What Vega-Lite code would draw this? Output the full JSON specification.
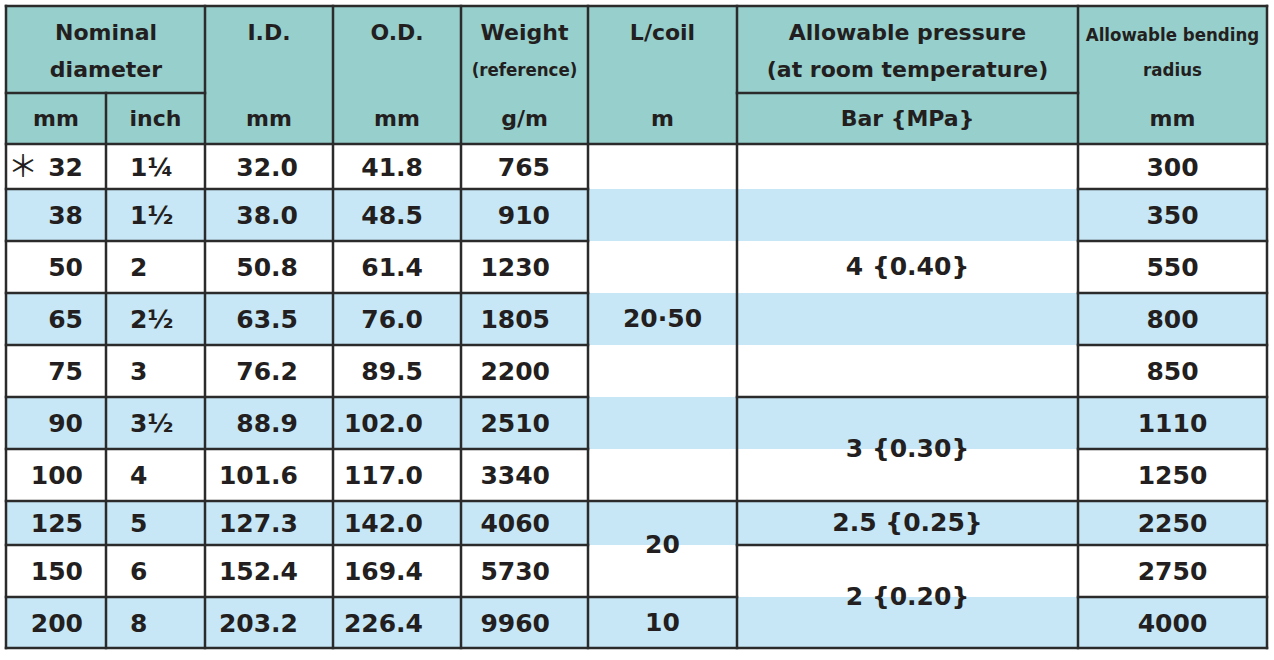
{
  "$schema": "https://vega.github.io/schema/vega-lite/v6.json",
  "width": 1274,
  "height": 660,
  "autosize": {"type": "fit", "contains": "padding"},
  "padding": 0,
  "background": "white",
  "config": {
    "view": {"stroke": null},
    "axis": {"disable": true},
    "text": {"font": "DejaVu Sans", "fontWeight": "bold", "fontSize": 25, "color": "#231f20", "baseline": "middle"}
  },
  "datasets": {
    "fills": [
      {"kind": "head", "c0": 0, "c1": 8, "r0": 0, "r1": 2},
      {"kind": "stripe", "c0": 0, "c1": 8, "r0": 3, "r1": 4},
      {"kind": "stripe", "c0": 0, "c1": 8, "r0": 5, "r1": 6},
      {"kind": "stripe", "c0": 0, "c1": 8, "r0": 7, "r1": 8},
      {"kind": "stripe", "c0": 0, "c1": 8, "r0": 9, "r1": 10},
      {"kind": "stripe", "c0": 0, "c1": 8, "r0": 11, "r1": 12}
    ],
    "lines": [
      {"x0": 0, "x1": 0, "y0": 0, "y1": 12},
      {"x0": 1, "x1": 1, "y0": 1, "y1": 12},
      {"x0": 2, "x1": 2, "y0": 0, "y1": 12},
      {"x0": 3, "x1": 3, "y0": 0, "y1": 12},
      {"x0": 4, "x1": 4, "y0": 0, "y1": 12},
      {"x0": 5, "x1": 5, "y0": 0, "y1": 12},
      {"x0": 6, "x1": 6, "y0": 0, "y1": 12},
      {"x0": 7, "x1": 7, "y0": 0, "y1": 12},
      {"x0": 8, "x1": 8, "y0": 0, "y1": 12},
      {"x0": 0, "x1": 8, "y0": 0, "y1": 0},
      {"x0": 0, "x1": 2, "y0": 1, "y1": 1},
      {"x0": 6, "x1": 7, "y0": 1, "y1": 1},
      {"x0": 0, "x1": 8, "y0": 2, "y1": 2},
      {"x0": 0, "x1": 5, "y0": 3, "y1": 3},
      {"x0": 7, "x1": 8, "y0": 3, "y1": 3},
      {"x0": 0, "x1": 5, "y0": 4, "y1": 4},
      {"x0": 7, "x1": 8, "y0": 4, "y1": 4},
      {"x0": 0, "x1": 5, "y0": 5, "y1": 5},
      {"x0": 7, "x1": 8, "y0": 5, "y1": 5},
      {"x0": 0, "x1": 5, "y0": 6, "y1": 6},
      {"x0": 7, "x1": 8, "y0": 6, "y1": 6},
      {"x0": 0, "x1": 5, "y0": 7, "y1": 7},
      {"x0": 6, "x1": 8, "y0": 7, "y1": 7},
      {"x0": 0, "x1": 5, "y0": 8, "y1": 8},
      {"x0": 7, "x1": 8, "y0": 8, "y1": 8},
      {"x0": 0, "x1": 8, "y0": 9, "y1": 9},
      {"x0": 0, "x1": 5, "y0": 10, "y1": 10},
      {"x0": 6, "x1": 8, "y0": 10, "y1": 10},
      {"x0": 0, "x1": 6, "y0": 11, "y1": 11},
      {"x0": 7, "x1": 8, "y0": 11, "y1": 11},
      {"x0": 0, "x1": 8, "y0": 12, "y1": 12}
    ],
    "header": [
      {"text": "Nominal", "c0": 0, "c1": 2, "line": 1},
      {"text": "diameter", "c0": 0, "c1": 2, "line": 2},
      {"text": "I.D.", "c0": 2, "c1": 3, "line": 1},
      {"text": "O.D.", "c0": 3, "c1": 4, "line": 1},
      {"text": "Weight", "c0": 4, "c1": 5, "line": 1},
      {"text": "(reference)", "c0": 4, "c1": 5, "line": 2},
      {"text": "L/coil", "c0": 5, "c1": 6, "line": 1},
      {"text": "Allowable pressure", "c0": 6, "c1": 7, "line": 1},
      {"text": "(at room temperature)", "c0": 6, "c1": 7, "line": 2},
      {"text": "Allowable bending", "c0": 7, "c1": 8, "line": 1},
      {"text": "radius", "c0": 7, "c1": 8, "line": 2},
      {"text": "mm", "c0": 0, "c1": 1, "line": 3},
      {"text": "inch", "c0": 1, "c1": 2, "line": 3},
      {"text": "mm", "c0": 2, "c1": 3, "line": 3},
      {"text": "mm", "c0": 3, "c1": 4, "line": 3},
      {"text": "g/m", "c0": 4, "c1": 5, "line": 3},
      {"text": "m", "c0": 5, "c1": 6, "line": 3},
      {"text": "Bar {MPa}", "c0": 6, "c1": 7, "line": 3},
      {"text": "mm", "c0": 7, "c1": 8, "line": 3}
    ],
    "rows": [
      {"row": 1, "flag": "＊", "mm": 32, "inch": "1¼", "id": 32.0, "od": 41.8, "weight": 765, "radius": 300},
      {"row": 2, "mm": 38, "inch": "1½", "id": 38.0, "od": 48.5, "weight": 910, "radius": 350},
      {"row": 3, "mm": 50, "inch": "2", "id": 50.8, "od": 61.4, "weight": 1230, "radius": 550},
      {"row": 4, "mm": 65, "inch": "2½", "id": 63.5, "od": 76.0, "weight": 1805, "radius": 800},
      {"row": 5, "mm": 75, "inch": "3", "id": 76.2, "od": 89.5, "weight": 2200, "radius": 850},
      {"row": 6, "mm": 90, "inch": "3½", "id": 88.9, "od": 102.0, "weight": 2510, "radius": 1110},
      {"row": 7, "mm": 100, "inch": "4", "id": 101.6, "od": 117.0, "weight": 3340, "radius": 1250},
      {"row": 8, "mm": 125, "inch": "5", "id": 127.3, "od": 142.0, "weight": 4060, "radius": 2250},
      {"row": 9, "mm": 150, "inch": "6", "id": 152.4, "od": 169.4, "weight": 5730, "radius": 2750},
      {"row": 10, "mm": 200, "inch": "8", "id": 203.2, "od": 226.4, "weight": 9960, "radius": 4000}
    ],
    "spans": [
      {"text": "20·50", "c0": 5, "c1": 6, "r0": 2, "r1": 9},
      {"text": "20", "c0": 5, "c1": 6, "r0": 9, "r1": 11},
      {"text": "10", "c0": 5, "c1": 6, "r0": 11, "r1": 12},
      {"text": "4 {0.40}", "c0": 6, "c1": 7, "r0": 2, "r1": 7},
      {"text": "3 {0.30}", "c0": 6, "c1": 7, "r0": 7, "r1": 9},
      {"text": "2.5 {0.25}", "c0": 6, "c1": 7, "r0": 9, "r1": 10},
      {"text": "2 {0.20}", "c0": 6, "c1": 7, "r0": 10, "r1": 12}
    ]
  },
  "layer": [
    {
      "data": {"name": "fills"},
      "mark": "rect",
      "encoding": {
        "x": {
          "field": "c0", "type": "quantitative",
          "scale": {"domain": [0, 1, 2, 3, 4, 5, 6, 7, 8], "range": [6, 106, 205, 333, 461, 588, 737, 1078, 1267], "nice": false, "zero": false}
        },
        "x2": {"field": "c1"},
        "y": {
          "field": "r0", "type": "quantitative",
          "scale": {"domain": [0, 1, 2, 3, 4, 5, 6, 7, 8, 9, 10, 11, 12], "range": [6, 93, 144, 189, 241, 293, 345, 397, 449, 501, 545, 597, 648], "nice": false, "zero": false}
        },
        "y2": {"field": "r1"},
        "color": {
          "field": "kind", "type": "nominal",
          "scale": {"domain": ["head", "stripe"], "range": ["#96cfcc", "#c7e7f6"]},
          "legend": null
        }
      }
    },
    {
      "data": {"name": "header"},
      "transform": [
        {"filter": "!(datum.c0 == 7 && datum.line < 3) && !(datum.c0 == 4 && datum.line == 2)"},
        {"calculate": "(datum.c0 + datum.c1) / 2", "as": "cx"},
        {"calculate": "datum.line == 1 ? 0.31 : datum.line == 2 ? 0.736 : 1.5", "as": "cy"}
      ],
      "mark": {"type": "text", "fontSize": 22},
      "encoding": {
        "x": {"field": "cx", "type": "quantitative"},
        "y": {"field": "cy", "type": "quantitative"},
        "text": {"field": "text"}
      }
    },
    {
      "data": {"name": "header"},
      "transform": [
        {"filter": "(datum.c0 == 7 && datum.line < 3) || (datum.c0 == 4 && datum.line == 2)"},
        {"calculate": "(datum.c0 + datum.c1) / 2", "as": "cx"},
        {"calculate": "datum.line == 1 ? 0.33 : 0.736", "as": "cy"}
      ],
      "mark": {"type": "text", "font": "DejaVu Sans Condensed", "fontSize": 18.5},
      "encoding": {
        "x": {"field": "cx", "type": "quantitative"},
        "y": {"field": "cy", "type": "quantitative"},
        "text": {"field": "text"}
      }
    },
    {
      "data": {"name": "rows"},
      "transform": [{"filter": "datum.flag"}, {"calculate": "datum.row + 1.5", "as": "ym"}],
      "mark": {"type": "text", "font": "Noto Sans CJK JP", "fontWeight": "normal", "fontSize": 30, "dx": 17, "dy": 1},
      "encoding": {
        "x": {"datum": 0, "type": "quantitative"},
        "y": {"field": "ym", "type": "quantitative"},
        "text": {"field": "flag"}
      }
    },
    {
      "data": {"name": "rows"},
      "transform": [{"calculate": "datum.row + 1.5", "as": "ym"}],
      "mark": {"type": "text", "align": "right", "dx": -23, "dy": 1},
      "encoding": {
        "x": {"datum": 1, "type": "quantitative"},
        "y": {"field": "ym", "type": "quantitative"},
        "text": {"field": "mm", "type": "quantitative", "format": "d"}
      }
    },
    {
      "data": {"name": "rows"},
      "transform": [{"calculate": "datum.row + 1.5", "as": "ym"}],
      "mark": {"type": "text", "align": "left", "dx": 24, "dy": 1},
      "encoding": {
        "x": {"datum": 1, "type": "quantitative"},
        "y": {"field": "ym", "type": "quantitative"},
        "text": {"field": "inch"}
      }
    },
    {
      "data": {"name": "rows"},
      "transform": [{"calculate": "datum.row + 1.5", "as": "ym"}],
      "mark": {"type": "text", "align": "right", "dx": -35, "dy": 1},
      "encoding": {
        "x": {"datum": 3, "type": "quantitative"},
        "y": {"field": "ym", "type": "quantitative"},
        "text": {"field": "id", "type": "quantitative", "format": ".1f"}
      }
    },
    {
      "data": {"name": "rows"},
      "transform": [{"calculate": "datum.row + 1.5", "as": "ym"}],
      "mark": {"type": "text", "align": "right", "dx": -38, "dy": 1},
      "encoding": {
        "x": {"datum": 4, "type": "quantitative"},
        "y": {"field": "ym", "type": "quantitative"},
        "text": {"field": "od", "type": "quantitative", "format": ".1f"}
      }
    },
    {
      "data": {"name": "rows"},
      "transform": [{"calculate": "datum.row + 1.5", "as": "ym"}],
      "mark": {"type": "text", "align": "right", "dx": -38, "dy": 1},
      "encoding": {
        "x": {"datum": 5, "type": "quantitative"},
        "y": {"field": "ym", "type": "quantitative"},
        "text": {"field": "weight", "type": "quantitative", "format": "d"}
      }
    },
    {
      "data": {"name": "rows"},
      "transform": [{"calculate": "datum.row + 1.5", "as": "ym"}],
      "mark": {"type": "text", "dy": 1},
      "encoding": {
        "x": {"datum": 7.5, "type": "quantitative"},
        "y": {"field": "ym", "type": "quantitative"},
        "text": {"field": "radius", "type": "quantitative", "format": "d"}
      }
    },
    {
      "data": {"name": "spans"},
      "transform": [
        {"calculate": "(datum.c0 + datum.c1) / 2", "as": "cx"},
        {"calculate": "(datum.r0 + datum.r1) / 2", "as": "cy"}
      ],
      "mark": {"type": "text"},
      "encoding": {
        "x": {"field": "cx", "type": "quantitative"},
        "y": {"field": "cy", "type": "quantitative"},
        "text": {"field": "text"}
      }
    },
    {
      "data": {"name": "lines"},
      "mark": {"type": "rule", "strokeWidth": 2.5, "color": "#2b2b2b", "strokeCap": "square"},
      "encoding": {
        "x": {"field": "x0", "type": "quantitative"},
        "x2": {"field": "x1"},
        "y": {"field": "y0", "type": "quantitative"},
        "y2": {"field": "y1"}
      }
    }
  ]
}
